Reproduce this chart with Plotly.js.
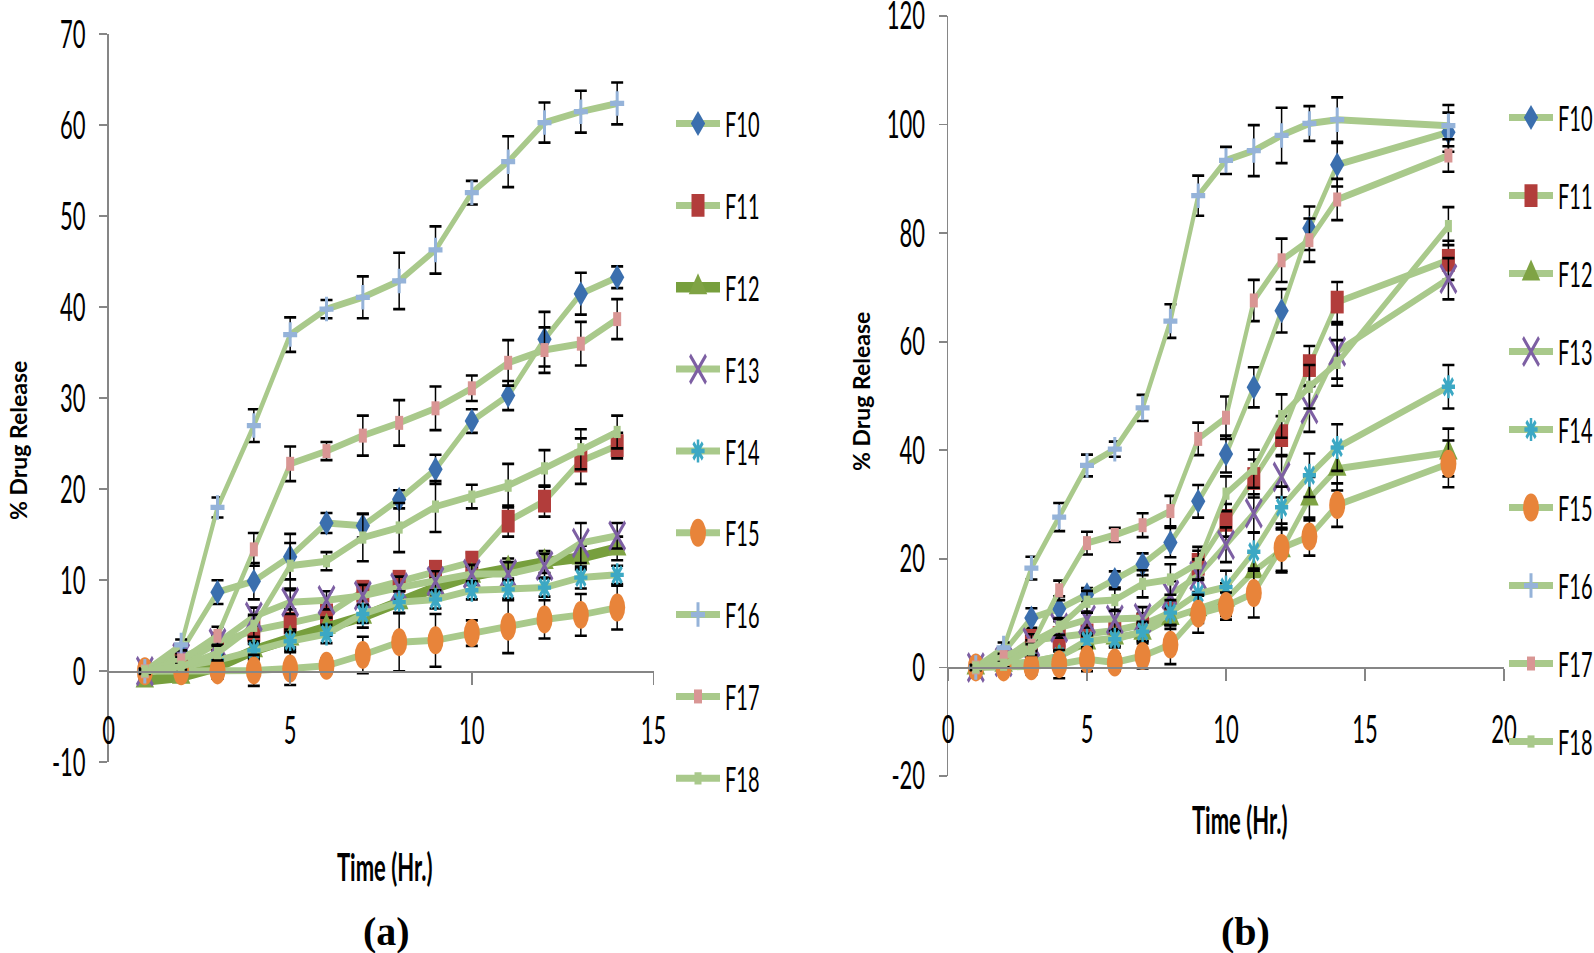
<!DOCTYPE html>
<html><head><meta charset="utf-8">
<script src="https://cdn.plot.ly/plotly-3.0.1.min.js"></script>
<style>
html,body{margin:0;padding:0;background:#fff;}
#wrap{position:relative;width:1594px;height:953px;overflow:hidden;background:#fff;}
#main{position:absolute;left:0;top:0;width:1594px;height:545px;transform-origin:0 0;}
#over{position:absolute;left:0;top:0;width:1594px;height:953px;pointer-events:none;}
</style></head><body>
<div id="wrap"><div id="main"></div><div id="over"></div></div>
<script>
// ---------- DATA ----------
const seriesNames = ['F10','F11','F12','F13','F14','F15','F16','F17','F18'];

// Panel (a)
const timeA = [1,2,3,4,5,6,7,8,9,10,11,12,13,14];
const F10a = [0, 2.2, 8.7, 9.9, 12.6, 16.3, 16.0, 18.9, 22.2, 27.5, 30.3, 36.5, 41.5, 43.3];
const F11a = [0, 0.8, 3.1, 4.5, 5.3, 6.2, 8.8, 9.9, 11.0, 12.0, 16.5, 18.7, 23.1, 24.8];
const F12a = [-1.0, -0.6, 0.5, 2.3, 3.6, 4.9, 6.0, 7.6, 9.2, 10.5, 11.3, 12.0, 12.5, 13.5];
const F13a = [0, 1.5, 3.1, 6.0, 7.6, 7.8, 8.3, 9.2, 9.9, 10.7, 10.7, 11.6, 14.1, 14.9];
const F14a = [0, 0.5, 1.2, 2.3, 3.3, 4.1, 6.3, 7.6, 7.9, 8.9, 9.0, 9.2, 10.3, 10.6];
const F15a = [0, 0, 0.1, 0.1, 0.3, 0.6, 1.8, 3.2, 3.4, 4.2, 4.9, 5.7, 6.2, 7.0];
const F16a = [0, 2.9, 18.0, 27.0, 37.0, 39.8, 41.1, 42.9, 46.3, 52.6, 56.0, 60.3, 61.5, 62.4];
const F17a = [0, 1.2, 3.9, 13.4, 22.8, 24.2, 25.9, 27.3, 28.9, 31.1, 33.9, 35.3, 36.0, 38.7];
const F18a = [0, 0.5, 2.0, 5.0, 11.6, 12.1, 14.7, 15.8, 18.1, 19.2, 20.4, 22.3, 24.4, 26.3];

const errF10a = [0.3, 0.6, 1.3, 2.0, 2.5, 1.1, 1.3, 1.0, 1.6, 1.3, 1.6, 3.0, 2.3, 1.2];
const errF11a = [0.3, 0.5, 0.8, 1.5, 1.5, 1.6, 1.0, 0.8, 0.8, 1.0, 1.7, 1.7, 2.5, 1.4];
const errF12a = [0.4, 0.3, 0.5, 1.0, 1.0, 1.0, 1.2, 1.2, 1.0, 1.0, 1.1, 1.2, 1.3, 1.3];
const errF13a = [0.3, 0.5, 0.8, 1.0, 1.3, 1.0, 1.2, 1.2, 1.1, 1.0, 1.3, 1.3, 2.2, 1.4];
const errF14a = [0.3, 0.4, 0.6, 0.8, 1.0, 1.0, 1.0, 1.2, 1.0, 1.0, 1.0, 1.0, 1.2, 1.0];
const errF15a = [0.2, 0.3, 0.9, 1.7, 1.8, 0.8, 2.0, 3.2, 2.9, 1.4, 2.9, 2.1, 2.3, 2.4];
const errF16a = [0.3, 0.6, 1.1, 1.8, 1.9, 1.0, 2.3, 3.1, 2.6, 1.3, 2.8, 2.2, 2.3, 2.3];
const errF17a = [0.2, 0.4, 1.0, 1.8, 1.9, 1.0, 2.2, 2.5, 2.4, 1.4, 2.5, 2.5, 2.4, 2.2];
const errF18a = [0.2, 0.3, 0.8, 1.2, 2.5, 1.0, 2.6, 2.7, 2.8, 1.3, 2.4, 2.0, 2.2, 1.8];

// Panel (b)
const timeB = [1,2,3,4,5,6,7,8,9,10,11,12,13,14,18];
const F10b = [0, 2.8, 9.1, 10.8, 13.4, 16.2, 19.0, 23.0, 30.6, 39.3, 51.6, 65.7, 80.9, 92.6, 98.6];
const F11b = [0, 1.5, 5.0, 5.5, 6.0, 6.8, 7.9, 10.1, 19.0, 27.1, 34.8, 42.7, 55.6, 67.3, 75.0];
const F12b = [0, 0.5, 1.0, 2.0, 4.6, 5.5, 6.4, 9.1, 10.7, 12.5, 17.7, 21.6, 31.1, 36.6, 39.6];
const F13b = [0, 1.0, 4.6, 7.3, 8.8, 8.8, 9.1, 13.4, 16.9, 22.6, 28.4, 35.1, 47.6, 58.2, 71.6];
const F14b = [0, 0.5, 1.0, 2.0, 5.0, 5.2, 6.6, 10.1, 13.6, 14.8, 21.3, 29.5, 35.4, 40.5, 51.7];
const F15b = [0, 0, 0.2, 0.6, 1.5, 0.9, 2.1, 4.2, 9.9, 11.3, 13.7, 22.0, 24.1, 29.9, 37.5];
const F16b = [0, 3.6, 18.3, 27.7, 37.2, 40.2, 47.8, 63.8, 86.9, 93.4, 95.2, 98.0, 100.2, 100.9, 99.8];
const F17b = [0, 1.9, 4.0, 14.2, 22.9, 24.4, 26.2, 28.8, 42.1, 46.0, 67.6, 75.0, 78.7, 86.2, 94.3];
const F18b = [0, 0.5, 3.3, 7.5, 12.1, 12.4, 15.4, 16.2, 19.2, 32.0, 36.6, 46.3, 51.7, 56.1, 81.3];

const errF10b = [0.5, 0.8, 1.8, 2.3, 1.2, 1.5, 2.0, 2.7, 3.0, 3.4, 3.7, 4.0, 4.0, 4.0, 3.6];
const errF11b = [0.5, 0.8, 1.5, 1.5, 1.5, 2.0, 2.0, 2.2, 2.5, 3.0, 3.5, 3.6, 3.6, 3.7, 3.6];
const errF12b = [0.4, 0.5, 0.8, 1.0, 1.2, 1.5, 1.5, 2.0, 2.5, 3.0, 3.5, 3.8, 4.0, 4.0, 4.4];
const errF13b = [0.4, 0.6, 1.5, 1.8, 1.5, 1.8, 2.0, 2.5, 3.0, 3.2, 3.5, 3.8, 4.2, 5.0, 3.8];
const errF14b = [0.4, 0.5, 0.8, 1.0, 1.2, 1.5, 1.8, 2.3, 2.5, 3.0, 3.5, 3.8, 4.0, 4.3, 4.0];
const errF15b = [0.3, 0.5, 1.5, 2.6, 2.2, 1.5, 2.3, 3.6, 3.5, 2.5, 4.5, 4.5, 3.5, 4.0, 4.3];
const errF16b = [0.5, 1.0, 2.1, 2.6, 2.0, 1.4, 2.4, 3.1, 3.7, 2.5, 4.7, 5.1, 3.2, 4.1, 3.8];
const errF17b = [0.4, 0.6, 1.0, 1.8, 2.1, 1.3, 2.2, 2.8, 3.0, 3.9, 3.8, 4.0, 4.0, 3.8, 3.0];
const errF18b = [0.4, 0.5, 1.0, 1.5, 2.0, 2.0, 2.5, 2.8, 3.0, 3.2, 3.5, 4.0, 4.0, 4.2, 3.5];

// Tick labels
const yTickValsA = [-10, 0, 10, 20, 30, 40, 50, 60, 70];
const yTickTextA = ['-10', '0', '10', '20', '30', '40', '50', '60', '70'];
const xTickValsA = [0, 5, 10, 15];
const xTickTextA = ['0', '5', '10', '15'];
const yTickValsB = [-20, 0, 20, 40, 60, 80, 100, 120];
const yTickTextB = ['-20', '0', '20', '40', '60', '80', '100', '120'];
const xTickValsB = [0, 5, 10, 15, 20];
const xTickTextB = ['0', '5', '10', '15', '20'];

const yTitle = '% Drug Release';
const xTitle = 'Time (Hr.)';
const panelLabels = ['(a)', '(b)'];

// ---------- STYLE / LAYOUT ----------
const W = 1594, FULL_H = 953, H = 545, S = FULL_H / H;
const LIGHT = '#a9c98b', DARK = '#779f3d', AXIS = '#868686';
const FONT = 'Lato, "Open Sans", sans-serif';
const NARROW = '"Liberation Sans Narrow", "Arial Narrow", Lato, sans-serif';
const styles = [
  {sym:'diamond', size:11, color:'#3b6fae'},
  {sym:'square', size:13, color:'#b23d3b'},
  {sym:'triangle-up', size:16, color:'#7fa344'},
  {sym:'x-thin-open', size:16, color:'#7d5fa3', lw:2.5},
  {sym:'asterisk-open', size:11, color:'#3ca8c4', lw:2.5},
  {sym:'circle', size:16, color:'#e8843a'},
  {sym:'cross-thin-open', size:10, color:'#95b3d9', lw:3},
  {sym:'square', size:8, color:'#d99694'},
  {sym:'square', size:7, color:LIGHT}
];

const seriesA = [F10a,F11a,F12a,F13a,F14a,F15a,F16a,F17a,F18a];
const errA = [errF10a,errF11a,errF12a,errF13a,errF14a,errF15a,errF16a,errF17a,errF18a];
const seriesB = [F10b,F11b,F12b,F13b,F14b,F15b,F16b,F17b,F18b];
const errB = [errF10b,errF11b,errF12b,errF13b,errF14b,errF15b,errF16b,errF17b,errF18b];

function mk(panel, i, x, y, e) {
  const st = styles[i];
  const dark = panel === 'a' && i === 2;
  return {
    type:'scatter', mode:'lines+markers', x:x, y:y, name:seriesNames[i],
    xaxis: panel === 'a' ? 'x' : 'x2', yaxis: panel === 'a' ? 'y' : 'y2',
    legend: panel === 'a' ? 'legend' : 'legend2', legendgroup: panel + i,
    line:{color: dark ? DARK : LIGHT, width: dark ? 6 : 4},
    marker:{symbol:st.sym, size:st.size, color:st.color, line:{color:st.color, width:st.lw || 0}},
    error_y:{type:'data', array:e, visible:true, color:'#000', thickness:1.5, width:6},
    cliponaxis:false, hoverinfo:'skip'
  };
}
const traces = [];
seriesA.forEach((y, i) => traces.push(mk('a', i, timeA, y, errA[i])));
seriesB.forEach((y, i) => traces.push(mk('b', i, timeB, y, errB[i])));

const yDomA = [1 - 762.3 / FULL_H, 1 - 34.3 / FULL_H];
const yDomB = [1 - 776 / FULL_H, 1 - 16 / FULL_H];
const yRangeA = [-10, 70], yRangeB = [-20, 120];
const zeroPos = (dom, rng) => dom[0] + (0 - rng[0]) / (rng[1] - rng[0]) * (dom[1] - dom[0]);

const tickFont = {family:NARROW, size:22, color:'#000'};
function xAx(dom, rng, tv, tt, yDom, yRng, standoff) {
  return {domain:dom, range:rng, anchor:'free', position:zeroPos(yDom, yRng),
    tickvals:tv, ticktext:tt, showline:true, linecolor:AXIS, linewidth:1,
    ticks:'outside', ticklen:7, tickwidth:1.5, tickcolor:AXIS, ticklabeloverflow:'allow',
    showgrid:false, zeroline:false, tickfont:tickFont, ticklabelstandoff:standoff, fixedrange:true};
}
function yAx(dom, rng, tv, tt, anchor) {
  return {domain:dom, range:rng, anchor:anchor, tickvals:tv, ticktext:tt,
    showline:true, linecolor:AXIS, linewidth:1.5, ticks:'outside', ticklen:8, tickwidth:1, tickcolor:AXIS,
    ticklabeloverflow:'allow',
    showgrid:false, zeroline:false, tickfont:tickFont, ticklabelstandoff:9, fixedrange:true};
}
const legendBase = {xanchor:'left', yanchor:'top', traceorder:'grouped', itemwidth:44,
  font:{family:NARROW, size:20, color:'#000'}, bgcolor:'rgba(0,0,0,0)', borderwidth:0};

const layout = {
  width:W, height:H, margin:{l:0, r:0, t:0, b:0, autoexpand:false},
  paper_bgcolor:'#fff', plot_bgcolor:'#fff', showlegend:true,
  xaxis: xAx([108.5 / W, 653.5 / W], [0, 15], xTickValsA, xTickTextA, yDomA, yRangeA, 7),
  yaxis: yAx(yDomA, yRangeA, yTickValsA, yTickTextA, 'x'),
  xaxis2: xAx([948 / W, 1504 / W], [0, 20], xTickValsB, xTickTextB, yDomB, yRangeB, 9),
  yaxis2: yAx(yDomB, yRangeB, yTickValsB, yTickTextB, 'x2'),
  legend: Object.assign({}, legendBase, {x:671 / W, y:1 - 89.5 / FULL_H, tracegroupgap:17.8}),
  legend2: Object.assign({}, legendBase, {x:1504 / W, y:1 - 83.5 / FULL_H, tracegroupgap:15.6}),
  annotations: [
    {text:'<b>' + xTitle + '</b>', xref:'paper', yref:'paper', x:385 / W, y:1 - 867 / FULL_H,
     xanchor:'center', yanchor:'middle', showarrow:false, font:{family:FONT, size:22, color:'#000'}},
    {text:'<b>' + xTitle + '</b>', xref:'paper', yref:'paper', x:1240 / W, y:1 - 819 / FULL_H,
     xanchor:'center', yanchor:'middle', showarrow:false, font:{family:FONT, size:22, color:'#000'}}
  ]
};

const overLayout = {
  width:W, height:FULL_H, margin:{l:0, r:0, t:0, b:0, autoexpand:false},
  paper_bgcolor:'rgba(0,0,0,0)', plot_bgcolor:'rgba(0,0,0,0)',
  xaxis:{visible:false, range:[0, 1]}, yaxis:{visible:false, range:[0, 1]},
  annotations: [
    {text:'<b>' + yTitle + '</b>', textangle:-90, xref:'paper', yref:'paper', x:18 / W, y:1 - 441 / FULL_H,
     xanchor:'center', yanchor:'middle', showarrow:false, font:{family:FONT, size:23, color:'#000'}},
    {text:'<b>' + yTitle + '</b>', textangle:-90, xref:'paper', yref:'paper', x:861 / W, y:1 - 392 / FULL_H,
     xanchor:'center', yanchor:'middle', showarrow:false, font:{family:FONT, size:23, color:'#000'}},
    {text:'<b>' + panelLabels[0] + '</b>', xref:'paper', yref:'paper', x:386 / W, y:1 - 931 / FULL_H,
     xanchor:'center', yanchor:'middle', showarrow:false, font:{family:'"Liberation Serif", "Times New Roman", serif', size:40, color:'#000'}},
    {text:'<b>' + panelLabels[1] + '</b>', xref:'paper', yref:'paper', x:1245 / W, y:1 - 931 / FULL_H,
     xanchor:'center', yanchor:'middle', showarrow:false, font:{family:'"Liberation Serif", "Times New Roman", serif', size:40, color:'#000'}}
  ]
};

const cfg = {staticPlot:true, displayModeBar:false, responsive:false};
Plotly.newPlot('main', traces, layout, cfg).then(() => {
  document.getElementById('main').style.transform = 'scaleY(' + S + ')';
});
Plotly.newPlot('over', [], overLayout, cfg);
</script>
</body></html>
